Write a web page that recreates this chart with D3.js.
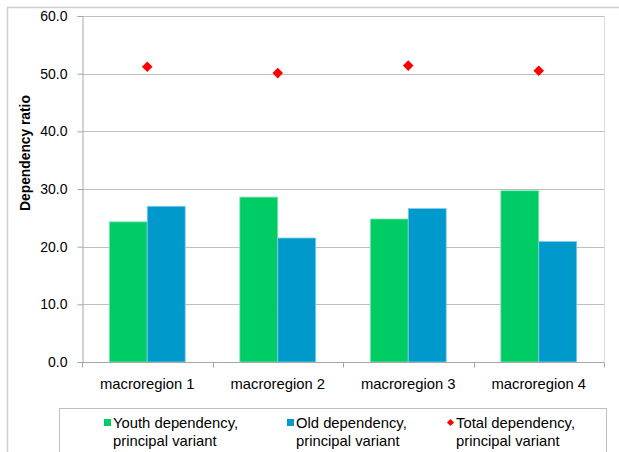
<!DOCTYPE html>
<html>
<head>
<meta charset="utf-8">
<script src="https://cdn.jsdelivr.net/npm/d3@7"></script>
<style>
  body { margin: 0; background: #fff; }
  text { font-family: "Liberation Sans", Arial, sans-serif; fill: #000; }
</style>
</head>
<body>
<div id="chart"></div>
<script>
var categories = ["macroregion 1", "macroregion 2", "macroregion 3", "macroregion 4"];
var seriesNames = ["Youth dependency, principal variant", "Old dependency, principal variant", "Total dependency, principal variant"];
var youth = [24.3, 28.6, 24.8, 29.7];
var old = [27.0, 21.5, 26.6, 20.9];
var total = [51.2, 50.1, 51.4, 50.5];
var yTicks = [0, 10, 20, 30, 40, 50, 60];

var width = 619, height = 452;
var margin = {top: 16, right: 15, bottom: 90, left: 82};

var svg = d3.select("#chart").append("svg")
    .attr("width", width)
    .attr("height", height);

// chart area border
svg.append("rect")
    .attr("x", 7.5).attr("y", 7.5)
    .attr("width", width + 10).attr("height", height + 10)
    .style("fill", "none")
    .style("stroke", "#d0d0d0")
    .style("stroke-width", 1.5);

var x = d3.scaleBand()
    .domain(categories)
    .range([margin.left, width - margin.right])
    .padding(0);

var xInner = d3.scaleBand()
    .domain([0, 1])
    .range([0, x.bandwidth()])
    .paddingOuter(0.72)
    .paddingInner(0);

var y = d3.scaleLinear()
    .domain([0, 60])
    .range([362, margin.top]);

var g = svg.append("g");

// gridlines
g.selectAll("line.grid")
    .data(yTicks.slice(1))
    .enter().append("line")
    .attr("class", "grid")
    .attr("x1", margin.left).attr("x2", width - margin.right)
    .attr("y1", function(d){ return Math.round(y(d)) + 0.5; })
    .attr("y2", function(d){ return Math.round(y(d)) + 0.5; })
    .style("stroke", "#bfbfbf")
    .style("stroke-width", 1);

// right edge of plot area
g.append("line")
    .attr("x1", width - margin.right + 0.5).attr("x2", width - margin.right + 0.5)
    .attr("y1", margin.top).attr("y2", 362)
    .style("stroke", "#d9d9d9");

// bars
var bars = [youth, old];
var fills = ["#00cc66", "#0099cc"];
var edges = ["#80e6b3", "#80cce6"];
bars.forEach(function(vals, s){
    g.selectAll("rect.s" + s)
        .data(vals)
        .enter().append("rect")
        .attr("class", "s" + s)
        .attr("x", function(d, i){ return x(categories[i]) + xInner(s); })
        .attr("y", function(d){ return y(d); })
        .attr("width", xInner.bandwidth())
        .attr("height", function(d){ return y(0) - y(d); })
        .style("fill", fills[s])
        .style("stroke", edges[s])
        .style("stroke-width", 0.8);
});

// total diamonds
var diamond = d3.symbol().type(d3.symbolSquare).size(56);
g.selectAll("path.total")
    .data(total)
    .enter().append("path")
    .attr("class", "total")
    .attr("d", diamond)
    .attr("transform", function(d, i){
        return "translate(" + (x(categories[i]) + x.bandwidth() / 2) + "," + y(d) + ") rotate(45)";
    })
    .style("fill", "#ff0000");

// y axis
var yAxis = d3.axisLeft(y)
    .tickValues(yTicks)
    .tickSize(5)
    .tickFormat(d3.format(".1f"));
var ya = svg.append("g")
    .attr("transform", "translate(" + (margin.left + 0.5) + ",0)")
    .call(yAxis);
ya.select(".domain").style("stroke", "#a6a6a6");
ya.selectAll(".tick line").style("stroke", "#a6a6a6");
ya.selectAll(".tick text")
    .attr("x", -15)
    .style("font-size", "14px")
    .style("font-family", "Liberation Sans, Arial, sans-serif")
    .style("fill", "#000");

// x axis
var xa = svg.append("g")
    .attr("transform", "translate(0," + (362.5) + ")");
xa.append("line")
    .attr("x1", margin.left).attr("x2", width - margin.right)
    .style("stroke", "#a6a6a6");
xa.selectAll("line.tk")
    .data(categories.concat(["end"]))
    .enter().append("line")
    .attr("class", "tk")
    .attr("x1", function(d, i){ return Math.round(margin.left + i * x.step()) + 0.5; })
    .attr("x2", function(d, i){ return Math.round(margin.left + i * x.step()) + 0.5; })
    .attr("y1", 0).attr("y2", 5)
    .style("stroke", "#a6a6a6");
xa.selectAll("text")
    .data(categories)
    .enter().append("text")
    .attr("x", function(d){ return x(d) + x.bandwidth() / 2; })
    .attr("y", 26)
    .attr("text-anchor", "middle")
    .style("font-size", "14.8px")
    .text(function(d){ return d; });

// y title
svg.append("text")
    .attr("transform", "translate(30,153) rotate(-90)")
    .attr("text-anchor", "middle")
    .style("font-size", "13.8px")
    .style("font-weight", "bold")
    .text("Dependency ratio");

// legend
var legend = svg.append("g");
legend.append("rect")
    .attr("x", 59.5).attr("y", 408.5)
    .attr("width", 547).attr("height", 60)
    .style("fill", "#fff")
    .style("stroke", "#bfbfbf");

var legX = [104, 287, 447];
var legColors = ["#00cc66", "#0099cc", "#ff0000"];
seriesNames.forEach(function(name, i){
    var item = legend.append("g").attr("transform", "translate(" + legX[i] + ",0)");
    if (i < 2) {
        item.append("rect")
            .attr("x", 0).attr("y", 419)
            .attr("width", 7).attr("height", 7)
            .style("fill", legColors[i]);
    } else {
        item.append("path")
            .attr("d", d3.symbol().type(d3.symbolSquare).size(26))
            .attr("transform", "translate(3.5,422.5) rotate(45)")
            .style("fill", legColors[i]);
    }
    var parts = name.split(", ");
    item.append("text")
        .attr("x", 9).attr("y", 428)
        .style("font-size", "14.8px")
        .text(parts[0] + ",");
    item.append("text")
        .attr("x", 9).attr("y", 446)
        .style("font-size", "14.8px")
        .text(parts[1]);
});
</script>
</body>
</html>
